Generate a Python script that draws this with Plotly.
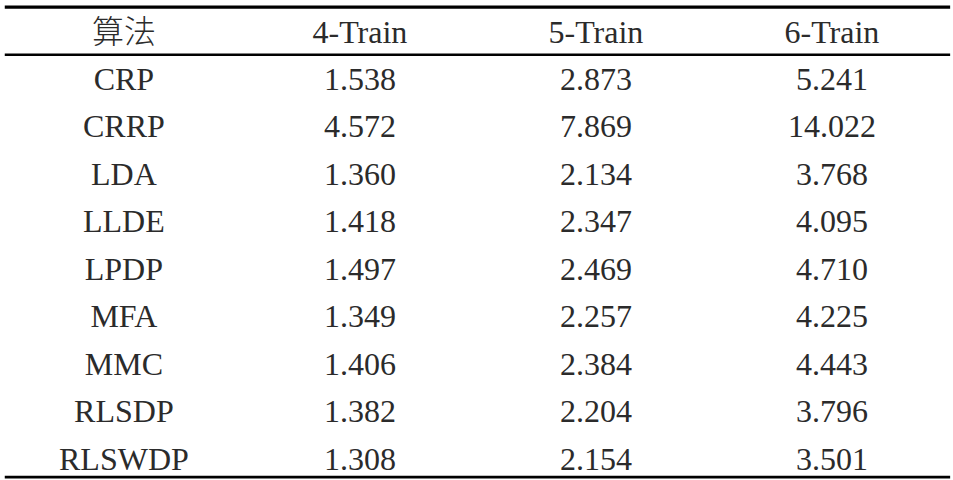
import plotly.graph_objects as go

# table contents
header_first = "算法"
columns = ["4-Train", "5-Train", "6-Train"]
algorithms = ["CRP", "CRRP", "LDA", "LLDE", "LPDP", "MFA", "MMC", "RLSDP", "RLSWDP"]
train4 = ["1.538", "4.572", "1.360", "1.418", "1.497", "1.349", "1.406", "1.382", "1.308"]
train5 = ["2.873", "7.869", "2.134", "2.347", "2.469", "2.257", "2.384", "2.204", "2.154"]
train6 = ["5.241", "14.022", "3.768", "4.095", "4.710", "4.225", "4.443", "3.796", "3.501"]

col_keys = ["c0", "c1", "c2", "c3"]
row_keys = ["h"] + algorithms

serif = "Liberation Serif, Times New Roman, serif"
cjk = "Noto Sans CJK SC"
txt_color = "#2b2b2b"

fig = go.Figure()

# header row: CJK label separately so it can be set lighter
fig.add_trace(go.Scatter(
    x=col_keys[:1], y=["h"], text=[header_first], mode="text",
    textfont=dict(family=cjk, size=32, color=txt_color, weight=300),
    hoverinfo="skip", showlegend=False,
))
fig.add_trace(go.Scatter(
    x=col_keys[1:], y=["h"] * 3, text=columns, mode="text",
    textfont=dict(family=serif, size=32, color=txt_color),
    hoverinfo="skip", showlegend=False,
))

# body rows
for key, vals in zip(col_keys, [algorithms, train4, train5, train6]):
    fig.add_trace(go.Scatter(
        x=[key] * len(algorithms), y=algorithms,
        text=vals, mode="text",
        textfont=dict(family=serif, size=32, color=txt_color),
        hoverinfo="skip", showlegend=False,
    ))

# rules: top, below header, bottom
for y0, w in [(0.985, 3.2), (0.886, 2.4), (0.006, 2.6)]:
    fig.add_shape(type="line", xref="paper", yref="paper",
                  x0=0.005, x1=0.997, y0=y0, y1=y0,
                  line=dict(color="black", width=w))

fig.update_xaxes(type="category", categoryorder="array", categoryarray=col_keys,
                 range=[-0.525, 3.513], visible=False, fixedrange=True)
fig.update_yaxes(type="category", categoryorder="array", categoryarray=row_keys,
                 range=[9.39, -0.73], visible=False, fixedrange=True)

fig.update_layout(
    width=953, height=480,
    margin=dict(l=0, r=0, t=0, b=0),
    plot_bgcolor="white", paper_bgcolor="white",
)

fig.write_html("out.html", post_script="document.body.style.margin='0';",
               config={"displayModeBar": False})
